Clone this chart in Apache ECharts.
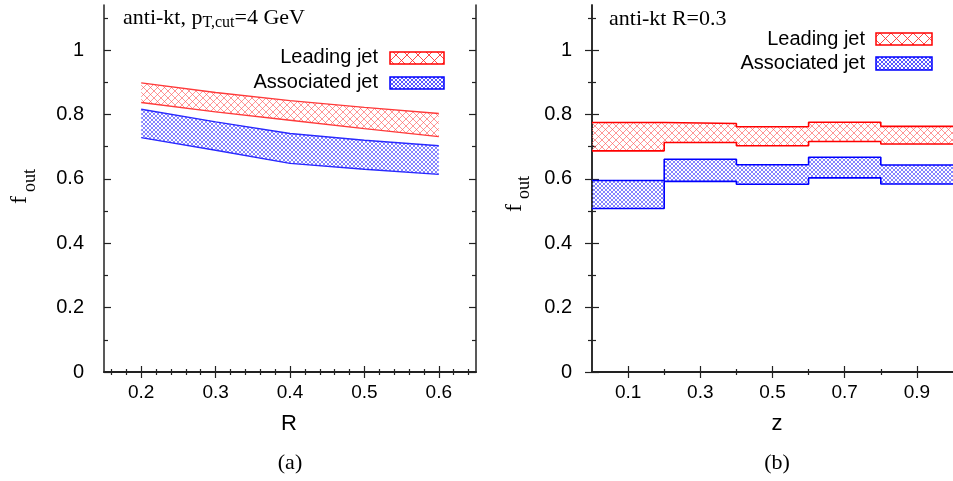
<!DOCTYPE html>
<html><head><meta charset="utf-8">
<script src="https://cdn.jsdelivr.net/npm/echarts@6/dist/echarts.min.js"></script>
<style>html,body{margin:0;padding:0;background:#fff}#c{width:953px;height:481px}</style>
</head><body><div id="c"></div>
<script>
// ---- data ----
const R = [0.2, 0.3, 0.4, 0.5, 0.6];
const leadUpR  = [0.898, 0.868, 0.843, 0.822, 0.803];
const leadLoR  = [0.837, 0.808, 0.782, 0.756, 0.731];
const assocUpR = [0.816, 0.777, 0.741, 0.720, 0.703];
const assocLoR = [0.728, 0.689, 0.648, 0.630, 0.614];

const zEdges   = [0, 0.2, 0.4, 0.6, 0.8, 1.0];
const leadUpZ  = [0.775, 0.772, 0.762, 0.776, 0.763];
const leadLoZ  = [0.687, 0.713, 0.703, 0.716, 0.708];
const assocUpZ = [0.595, 0.661, 0.644, 0.667, 0.643];
const assocLoZ = [0.508, 0.592, 0.583, 0.603, 0.584];

const xLabelsR = ['0.2', '0.3', '0.4', '0.5', '0.6'];
const xMinorR  = [0.16,0.18,0.22,0.24,0.26,0.28,0.32,0.34,0.36,0.38,0.42,0.44,0.46,0.48,0.52,0.54,0.56,0.58,0.62,0.64];
const xLabelsZ = ['0.1', '0.3', '0.5', '0.7', '0.9'];
const xMinorZ  = [0.2, 0.4, 0.6, 0.8];
const yLabels  = ['0', '0.2', '0.4', '0.6', '0.8', '1'];
const yMinor   = [0.1, 0.3, 0.5, 0.7, 0.9, 1.1];

// ---- hatch patterns ----
function hatch(size, color, lw) {
  const c = document.createElement('canvas');
  c.width = c.height = size;
  const g = c.getContext('2d');
  g.strokeStyle = color; g.lineWidth = lw;
  g.beginPath();
  g.moveTo(-1, -1); g.lineTo(size + 1, size + 1);
  g.moveTo(size + 1, -1); g.lineTo(-1, size + 1);
  g.stroke();
  return c;
}
const redPat    = { image: hatch(7, 'rgba(255,80,80,0.6)', 1), repeat: 'repeat' };
const bluePat   = { image: hatch(4, 'rgba(50,50,255,0.6)', 1), repeat: 'repeat' };
const redPatLg  = { image: hatch(11, 'rgba(255,40,40,0.85)', 1), repeat: 'repeat' };
const bluePatLg = { image: hatch(4, 'rgba(30,30,255,0.75)', 1), repeat: 'repeat' };

const sans = 'Liberation Sans';
const serif = 'Liberation Serif';
const axisCol = '#222';

function xAxes(gi, min, max, majors, minors, labels) {
  const base = { type: 'value', gridIndex: gi, min: min, max: max, splitLine: { show: false } };
  return [
    Object.assign({}, base, { position: 'bottom',
      axisLine: { show: true, lineStyle: { color: axisCol, width: 1.8 } },
      axisTick: { show: true, inside: true, length: 6, customValues: majors, lineStyle: { color: axisCol, width: 1.2 } },
      axisLabel: { show: true, customValues: majors, margin: 11, fontSize: 19, color: '#000', fontFamily: sans,
        formatter: v => { const i = majors.findIndex(m => Math.abs(m - v) < 1e-6); return i >= 0 ? labels[i] : ''; } } }),
    Object.assign({}, base, { position: 'bottom', axisLine: { show: false },
      axisTick: { show: true, inside: true, length: 3, customValues: minors, lineStyle: { color: axisCol, width: 1.2 } },
      axisLabel: { show: false } }),
    Object.assign({}, base, { position: 'top',
      axisLine: { show: true, lineStyle: { color: axisCol, width: 1.2 } },
      axisTick: { show: true, inside: true, length: 6, customValues: majors, lineStyle: { color: axisCol, width: 1.2 } },
      axisLabel: { show: false } }),
    Object.assign({}, base, { position: 'top', axisLine: { show: false },
      axisTick: { show: true, inside: true, length: 3, customValues: minors, lineStyle: { color: axisCol, width: 1.2 } },
      axisLabel: { show: false } })
  ];
}
const yMajors = yLabels.map(Number);
function yAxes(gi) {
  const base = { type: 'value', gridIndex: gi, min: 0, max: 1.14, splitLine: { show: false } };
  return [
    Object.assign({}, base, { position: 'left',
      axisLine: { show: true, lineStyle: { color: axisCol, width: 1.5 } },
      axisTick: { show: true, inside: true, length: 7, customValues: yMajors, lineStyle: { color: axisCol, width: 1.2 } },
      axisLabel: { show: true, customValues: yMajors, margin: 20, fontSize: 20, color: '#000', fontFamily: sans,
        formatter: v => { const i = yMajors.findIndex(m => Math.abs(m - v) < 1e-6); return i >= 0 ? yLabels[i] : ''; } } }),
    Object.assign({}, base, { position: 'left', axisLine: { show: false },
      axisTick: { show: true, inside: true, length: 4, customValues: yMinor, lineStyle: { color: axisCol, width: 1.2 } },
      axisLabel: { show: false } }),
    Object.assign({}, base, { position: 'right',
      axisLine: { show: true, lineStyle: { color: axisCol, width: 1.5 } },
      axisTick: { show: true, inside: true, length: 7, customValues: yMajors, lineStyle: { color: axisCol, width: 1.2 } },
      axisLabel: { show: false } }),
    Object.assign({}, base, { position: 'right', axisLine: { show: false },
      axisTick: { show: true, inside: true, length: 4, customValues: yMinor, lineStyle: { color: axisCol, width: 1.2 } },
      axisLabel: { show: false } })
  ];
}

const xA = xAxes(0, 0.15, 0.65, xLabelsR.map(Number), xMinorR, xLabelsR)
  .concat(xAxes(1, 0, 1, xLabelsZ.map(Number), xMinorZ, xLabelsZ));
const yA = yAxes(0).concat(yAxes(1));
// indexes: grid0 x:0-3, y:0-3 ; grid1 x:4-7, y:4-7

function bandSeries(xi, yi, segs, pat) {
  return {
    type: 'custom', xAxisIndex: xi, yAxisIndex: yi, clip: true, silent: true, z: 1,
    encode: { x: [0, 1], y: [2, 3, 4, 5] },
    data: segs,
    renderItem: function (params, api) {
      const x0 = api.value(0), x1 = api.value(1);
      const p = [api.coord([x0, api.value(2)]), api.coord([x1, api.value(4)]),
                 api.coord([x1, api.value(5)]), api.coord([x0, api.value(3)])];
      return { type: 'polygon', shape: { points: p }, style: { fill: pat, stroke: null } };
    }
  };
}
function segsCurve(xs, lo, up) {
  const s = [];
  for (let i = 0; i < xs.length - 1; i++) s.push([xs[i], xs[i + 1], lo[i], up[i], lo[i + 1], up[i + 1]]);
  return s;
}
function segsStep(edges, lo, up) {
  const s = [];
  for (let i = 0; i < edges.length - 1; i++) s.push([edges[i], edges[i + 1], lo[i], up[i], lo[i], up[i]]);
  return s;
}
function curveLine(xi, yi, xs, ys, color) {
  return { type: 'line', xAxisIndex: xi, yAxisIndex: yi, showSymbol: false, silent: true, z: 3,
    data: xs.map((x, i) => [x, ys[i]]), lineStyle: { color: color, width: 1.4 } };
}
function stepLine(xi, yi, edges, ys, color) {
  return { type: 'line', xAxisIndex: xi, yAxisIndex: yi, showSymbol: false, silent: true, step: 'end', z: 3,
    data: edges.map((x, i) => [x, ys[Math.min(i, ys.length - 1)]]), lineStyle: { color: color, width: 1.6 } };
}

const series = [
  bandSeries(0, 0, segsCurve(R, leadLoR, leadUpR), redPat),
  bandSeries(0, 0, segsCurve(R, assocLoR, assocUpR), bluePat),
  curveLine(0, 0, R, leadUpR, '#ff3a3a'),
  curveLine(0, 0, R, leadLoR, '#ff3a3a'),
  curveLine(0, 0, R, assocUpR, '#2a2aff'),
  curveLine(0, 0, R, assocLoR, '#2a2aff'),
  bandSeries(4, 4, segsStep(zEdges, leadLoZ, leadUpZ), redPat),
  bandSeries(4, 4, segsStep(zEdges, assocLoZ, assocUpZ), bluePat),
  stepLine(4, 4, zEdges, leadUpZ, '#ff0000'),
  stepLine(4, 4, zEdges, leadLoZ, '#ff0000'),
  stepLine(4, 4, zEdges, assocUpZ, '#0000ff'),
  stepLine(4, 4, zEdges, assocLoZ, '#0000ff')
];

function legendBox(x, y, w, h, pat, col) {
  return { type: 'rect', shape: { x: x, y: y, width: w, height: h }, style: { fill: pat, stroke: col, lineWidth: 1.5 }, z: 10 };
}
function txt(x, y, s, size, fam, align) {
  return { type: 'text', x: x, y: y, z: 10,
    style: { text: s, fontSize: size, fontFamily: fam, fill: '#000', align: align || 'left', verticalAlign: 'middle' } };
}
function rotTxt(x, y, s, size) {
  return { type: 'text', x: x, y: y, rotation: Math.PI / 2, z: 10,
    style: { text: s, fontSize: size, fontFamily: serif, fill: '#000', align: 'left', verticalAlign: 'middle' } };
}

const graphic = [
  // left panel title (rich text with subscript)
  { type: 'text', x: 123, y: 5, z: 10, style: {
      text: 'anti-kt, p{s|T,cut}=4 GeV', fontSize: 22, fontFamily: serif, fill: '#000',
      lineHeight: 26, align: 'left', verticalAlign: 'top',
      rich: { s: { fontSize: 16, fontFamily: serif, fill: '#000', lineHeight: 7, verticalAlign: 'bottom' } } } },
  // left legend
  txt(378, 57.5, 'Leading jet', 20, sans, 'right'),
  txt(378, 82, 'Associated jet', 20, sans, 'right'),
  legendBox(390, 52, 54, 12, redPatLg, '#ff0000'),
  legendBox(390, 77, 54, 12, bluePatLg, '#0000ff'),
  // right panel title + legend
  txt(609, 19.5, 'anti-kt R=0.3', 22, serif, 'left'),
  txt(865, 39, 'Leading jet', 20, sans, 'right'),
  txt(865, 63, 'Associated jet', 20, sans, 'right'),
  legendBox(876, 33, 56, 12, redPatLg, '#ff0000'),
  legendBox(876, 57, 56, 13, bluePatLg, '#0000ff'),
  // y axis names f_out
  rotTxt(20, 204, 'f', 24), rotTxt(30, 192, 'out', 18),
  rotTxt(515, 212, 'f', 24), rotTxt(524, 199, 'out', 18),
  // x axis names & panel tags
  txt(289, 424, 'R', 22, sans, 'center'),
  txt(777, 424, 'z', 22, sans, 'center'),
  txt(290, 463, '(a)', 22, serif, 'center'),
  txt(777, 463, '(b)', 22, serif, 'center')
];

const chart = echarts.init(document.getElementById('c'), null, { renderer: 'canvas' });
chart.setOption({
  backgroundColor: '#fff',
  animation: false,
  grid: [
    { left: 104, top: 5, width: 372, height: 367, show: false },
    { left: 592, top: 5, width: 370, height: 367, show: false }
  ],
  xAxis: xA,
  yAxis: yA,
  series: series,
  graphic: graphic
});
</script></body></html>
